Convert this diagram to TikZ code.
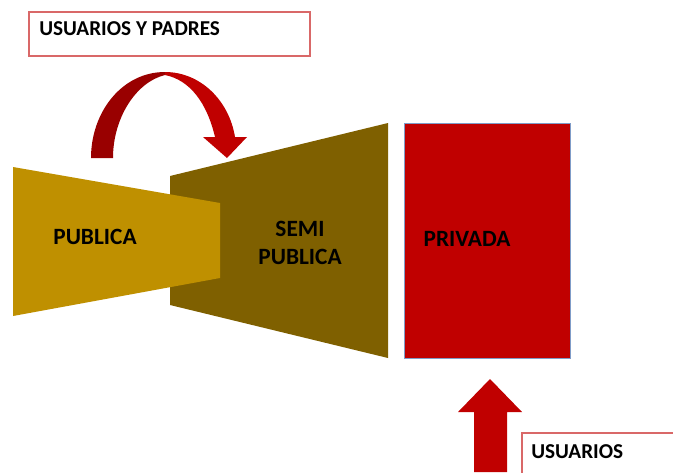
\documentclass[tikz,border=0pt]{standalone}
\usepackage{fontspec}
\setmainfont{Carlito}
\definecolor{oro}{HTML}{BF9000}
\definecolor{oliva}{HTML}{7F6000}
\definecolor{rojo}{HTML}{C00000}
\definecolor{rojoosc}{HTML}{990000}
\definecolor{borde}{HTML}{D96868}
\definecolor{bordeazul}{HTML}{7F9CC8}

\begin{document}
\begin{tikzpicture}[x=0.75pt, y=-0.75pt,
    tagline/.style={draw=borde, line width=0.8pt, fill=white},
    tagtext/.style={font=\bfseries\fontsize{15.9}{18}\selectfont, anchor=west, inner sep=0pt},
    blocktext/.style={font=\bfseries\fontsize{17.5}{20.5}\selectfont, align=center, inner sep=0pt}]
    \clip (0,0) rectangle (673,472);

    % sectores
    \fill[oliva] (170,176) -- (388,123) -- (388,358) -- (170,305) -- cycle;
    \fill[oro]   (13,167) -- (220,203) -- (220,278) -- (13,316) -- cycle;
    \draw[fill=rojo, draw=bordeazul, line width=0.6pt] (404,123) rectangle (570,358);

    \node[blocktext] (publica) at (95,237) {PUBLICA};
    \node[blocktext] (semi)    at (300,243) {SEMI\\PUBLICA};
    \node[blocktext] (privada) at (467,239) {PRIVADA};

    % flecha curva
    \fill[rojoosc] (91,158) .. controls (91,112) and (122,72) .. (165,72)
                   -- (165,75) .. controls (136,82) and (113,118) .. (113,158) -- cycle;
    \fill[rojo]    (165,72) .. controls (200,72) and (229,100) .. (235,137)
                   -- (247,137) -- (227,158) -- (203,137) -- (215,137)
                   .. controls (207,103) and (190,80) .. (165,75) -- cycle;

    % flecha hacia arriba
    \fill[rojo] (474,472) -- (474,412) -- (458,412) -- (490,379)
                -- (522,412) -- (507,412) -- (507,472) -- cycle;

    % etiquetas
    \draw[tagline] (29,12) rectangle (310,56);
    \node[tagtext] (padres) at (39,29) {USUARIOS Y PADRES};
    \draw[tagline] (522,433) rectangle (690,490);
    \node[tagtext] (usuarios) at (531,452) {USUARIOS};

\end{tikzpicture}
\end{document}
